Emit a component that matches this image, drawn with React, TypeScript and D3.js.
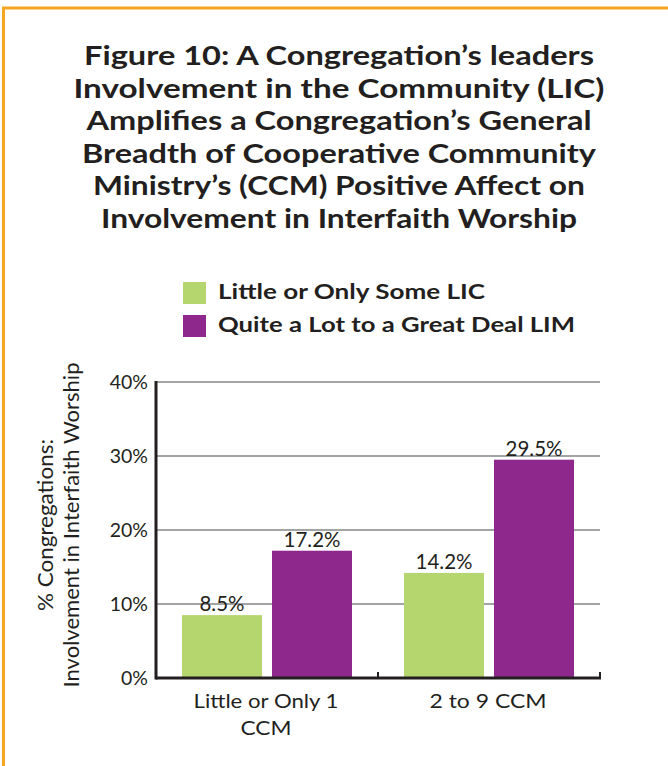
import React from "react";
import * as d3 from "d3";

const categories = ["Little or Only 1 CCM", "2 to 9 CCM"];
const categoryLines = [["Little or Only 1", "CCM"], ["2 to 9 CCM"]];
const seriesNames = ["Little or Only Some LIC", "Quite a Lot to a Great Deal LIM"];
const littleLIC = [8.5, 14.2];
const greatLIM = [17.2, 29.5];
const yTicks = [0, 10, 20, 30, 40];
const titleLines = [
  "Figure 10: A Congregation\u2019s leaders",
  "Involvement in the Community (LIC)",
  "Amplifies a Congregation\u2019s General",
  "Breadth of Cooperative Community",
  "Ministry\u2019s (CCM) Positive Affect on",
  "Involvement in Interfaith Worship",
];
const yTitleLines = ["% Congregations:", "Involvement in Interfaith Worship"];

// layout: rendered widths of the fixed text lines (to mimic the original typeface)
const titleWidths = [510, 531, 505, 514, 492, 476];
const legendWidths = [267, 357];
const yTitleWidths = [172, 325];
const categoryLineWidths = [[145, 51], [117]];

const colors = ["#B5D56F", "#8E288D"];
const textColor = "#231F20";
const font = "Lato, 'Open Sans', sans-serif";

export default function App() {
  const W = 668, H = 766;
  const left = 156, right = 600, top = 382, bottom = 678;
  const x0 = d3.scaleBand<string>().domain(categories).range([left, right]).padding(0);
  const x1 = d3
    .scaleBand<string>()
    .domain(seriesNames)
    .range([0, x0.bandwidth()])
    .paddingInner(1 / 9)
    .paddingOuter(0.2889);
  const y = d3.scaleLinear().domain([0, 40]).range([bottom, top]);
  const series = [littleLIC, greatLIM];

  return (
    <svg
      width={W}
      height={H}
      style={{ position: "absolute", left: 0, top: 0, background: "#fff" }}
      fontFamily={font}
    >
      <rect x={0} y={0} width={W} height={H} fill="#fff" />
      {/* border */}
      <path d={`M3.5,${H + 5} V8 H${W + 5}`} fill="none" stroke="#F6A623" strokeWidth={3} />

      {/* title */}
      {titleLines.map((t, i) => (
        <text
          key={i}
          x={339}
          y={65 + i * 32.5}
          textAnchor="middle"
          fontWeight="bold"
          fontSize={26}
          fill={textColor}
          textLength={titleWidths[i]}
          lengthAdjust="spacingAndGlyphs"
        >
          {t}
        </text>
      ))}

      {/* legend */}
      {seriesNames.map((s, i) => (
        <g key={s} transform={`translate(183, ${282 + i * 33})`}>
          <rect x={0} y={0} width={23} height={22} fill={colors[i]} />
          <text
            x={35}
            y={16.5}
            fontWeight="bold"
            fontSize={21}
            fill={textColor}
            textLength={legendWidths[i]}
            lengthAdjust="spacingAndGlyphs"
          >
            {s}
          </text>
        </g>
      ))}

      {/* gridlines */}
      {yTicks.filter((t) => t > 0).map((t) => (
        <line key={t} x1={left} x2={right} y1={y(t)} y2={y(t)} stroke="#A3A4A6" strokeWidth={2} />
      ))}

      {/* bars */}
      {categories.map((c, ci) => (
        <g key={c} transform={`translate(${x0(c)},0)`}>
          {seriesNames.map((s, si) => {
            const v = series[si][ci];
            const bx = x1(s)!;
            return (
              <g key={s}>
                <rect x={bx} y={y(v)} width={x1.bandwidth()} height={bottom - y(v)} fill={colors[si]} />
                <text
                  x={bx + x1.bandwidth() / 2}
                  y={y(v) - 4}
                  textAnchor="middle"
                  fontSize={20.5}
                  fill={textColor}
                >
                  {v.toFixed(1)}%
                </text>
              </g>
            );
          })}
        </g>
      ))}

      {/* axes */}
      <line x1={left} x2={left} y1={top - 1} y2={bottom + 1.5} stroke={textColor} strokeWidth={3} />
      <line x1={left} x2={right + 1} y1={bottom} y2={bottom} stroke={textColor} strokeWidth={3} />
      {x0.domain().map((c) => (
        <line
          key={c}
          x1={x0(c)! + x0.bandwidth()}
          x2={x0(c)! + x0.bandwidth()}
          y1={bottom}
          y2={bottom - 6}
          stroke={textColor}
          strokeWidth={2}
        />
      ))}

      {/* y tick labels */}
      {yTicks.map((t) => (
        <text key={t} x={148} y={y(t) + 6.5} textAnchor="end" fontSize={19.5} fill={textColor}>
          {t}%
        </text>
      ))}

      {/* x labels */}
      {categories.map((c, ci) =>
        categoryLines[ci].map((l, li) => (
          <text
            key={c + li}
            x={x0(c)! + x0.bandwidth() / 2 - 1}
            y={708 + li * 27}
            textAnchor="middle"
            fontSize={20}
            fill={textColor}
            textLength={categoryLineWidths[ci][li]}
            lengthAdjust="spacingAndGlyphs"
          >
            {l}
          </text>
        ))
      )}

      {/* y title */}
      {yTitleLines.map((l, i) => (
        <text
          key={i}
          transform={`translate(${53 + i * 26}, 525) rotate(-90)`}
          textAnchor="middle"
          fontSize={21.5}
          fill={textColor}
          textLength={yTitleWidths[i]}
          lengthAdjust="spacingAndGlyphs"
        >
          {l}
        </text>
      ))}
    </svg>
  );
}
